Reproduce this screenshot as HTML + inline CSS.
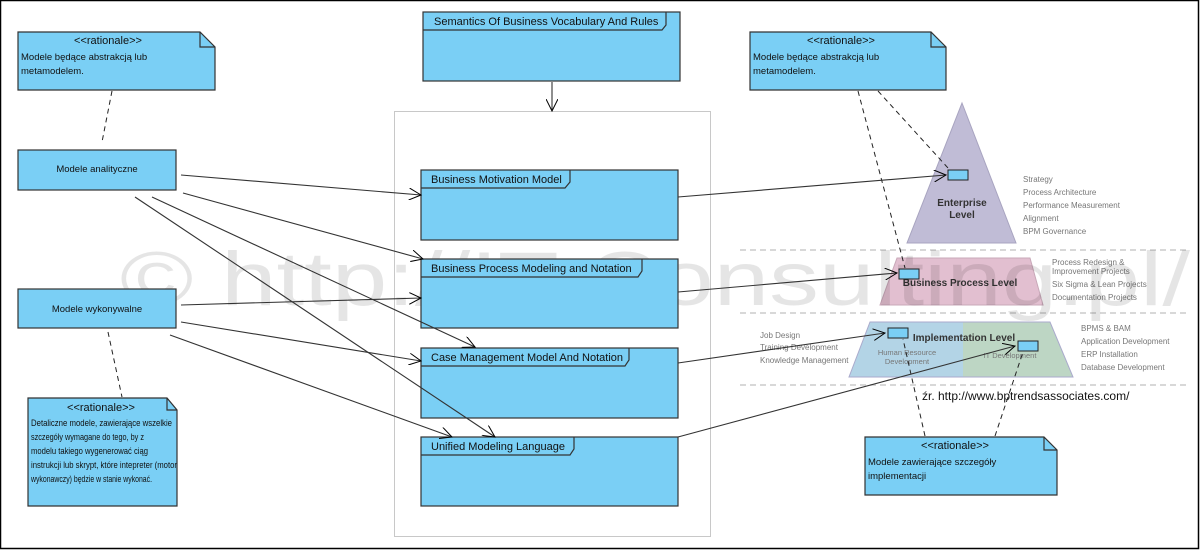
<!DOCTYPE html>
<html><head><meta charset="utf-8"><style>
body{margin:0;background:#fff;}
svg{display:block;font-family:"Liberation Sans","DejaVu Sans",sans-serif;}
</style></head><body>
<svg width="1200" height="550" viewBox="0 0 1200 550" xmlns="http://www.w3.org/2000/svg">
<defs>
<marker id="a" markerWidth="14" markerHeight="12" refX="12" refY="6" orient="auto" markerUnits="userSpaceOnUse">
<path d="M0,0 L12,6 L0,12" fill="none" stroke="#000" stroke-width="1"/></marker>
</defs>
<rect x="0.5" y="0.5" width="1198" height="548" fill="#fff" stroke="#000" stroke-width="1.5"/>

<g stroke="#ccc" stroke-width="1.5" stroke-dasharray="6,4">
<line x1="740" y1="250" x2="1186" y2="250"/>
<line x1="740" y1="313" x2="1186" y2="313"/>
<line x1="740" y1="385" x2="1186" y2="385"/>
</g>
<polygon points="962,103 1016,243 907,243" fill="#c0bcd6" stroke="#a8a4c0"/>
<text x="962" y="206" font-size="10" font-weight="bold" text-anchor="middle" fill="#333">Enterprise</text>
<text x="962" y="218" font-size="10" font-weight="bold" text-anchor="middle" fill="#333">Level</text>
<g font-size="8" fill="#777">
<text x="1023" y="182">Strategy</text>
<text x="1023" y="195">Process Architecture</text>
<text x="1023" y="208">Performance Measurement</text>
<text x="1023" y="221">Alignment</text>
<text x="1023" y="234">BPM Governance</text>
<text x="1052" y="265">Process Redesign &amp;</text>
<text x="1052" y="274">Improvement Projects</text>
<text x="1052" y="287">Six Sigma &amp; Lean Projects</text>
<text x="1052" y="300">Documentation Projects</text>
<text x="1081" y="331">BPMS &amp; BAM</text>
<text x="1081" y="344">Application Development</text>
<text x="1081" y="357">ERP Installation</text>
<text x="1081" y="370">Database Development</text>
<text x="760" y="338">Job Design</text>
<text x="760" y="350">Training Development</text>
<text x="760" y="363">Knowledge Management</text>
</g>
<polygon points="897,258 1030,258 1043,305 880,305" fill="#e2bfd0" stroke="#c8a8b8"/>
<text x="960" y="286" font-size="10" font-weight="bold" text-anchor="middle" fill="#333">Business Process Level</text>
<polygon points="870,322 963,322 963,377 849,377" fill="#b3d4e6"/>
<polygon points="963,322 1050,322 1073,377 963,377" fill="#bdd6c4"/>
<polygon points="870,322 1050,322 1073,377 849,377" fill="none" stroke="#aac"/>
<text x="964" y="341" font-size="10" font-weight="bold" text-anchor="middle" fill="#333">Implementation Level</text>
<text x="907" y="355" font-size="7.5" text-anchor="middle" fill="#777">Human Resource</text>
<text x="907" y="364" font-size="7.5" text-anchor="middle" fill="#777">Development</text>
<text x="1010" y="358" font-size="7.5" text-anchor="middle" fill="#777">IT Development</text>
<text x="922" y="400" font-size="12" fill="#111">źr. http://www.bptrendsassociates.com/</text>

<text x="120" y="305" font-size="76" fill="#000" fill-opacity="0.1" textLength="1070" lengthAdjust="spacingAndGlyphs">© http://IT-Consulting.pl/</text>

<rect x="394.5" y="111.5" width="316" height="425" fill="none" stroke="#c8c8c8"/>

<g stroke="#333" stroke-width="1.2" fill="#7acff5">
<rect x="423" y="12" width="257" height="69"/>
<rect x="421" y="170" width="257" height="70"/>
<rect x="421" y="259" width="257" height="69"/>
<rect x="421" y="348" width="257" height="70"/>
<rect x="421" y="437" width="257" height="69"/>
<path d="M423,30 H662 L666,25 V12" fill="none"/>
<path d="M421,188 H565 L570,182 V170" fill="none"/>
<path d="M421,277 H638 L642,271 V259" fill="none"/>
<path d="M421,366 H625 L629,360 V348" fill="none"/>
<path d="M421,455 H570 L574,449 V437" fill="none"/>
</g>
<g font-size="11" fill="#111">
<text x="434" y="25">Semantics Of Business Vocabulary And Rules</text>
<text x="431" y="183">Business Motivation Model</text>
<text x="431" y="272">Business Process Modeling and Notation</text>
<text x="431" y="361">Case Management Model And Notation</text>
<text x="431" y="450">Unified Modeling Language</text>
</g>

<g fill="#7acff5" stroke="#222">
<rect x="948" y="170" width="20" height="10"/>
<rect x="899" y="269" width="20" height="10"/>
<rect x="888" y="328" width="20" height="10"/>
<rect x="1018" y="341" width="20" height="10"/>
</g>

<g stroke="#333" stroke-width="1.2" fill="#7acff5">
<path d="M18,32 H200 L215,47 V90 H18 Z"/>
<path d="M200,32 V47 H215" fill="none"/>
<path d="M750,32 H931 L946,47 V90 H750 Z"/>
<path d="M931,32 V47 H946" fill="none"/>
<path d="M28,398 H167 L177,410 V506 H28 Z"/>
<path d="M167,398 V410 H177" fill="none"/>
<path d="M865,437 H1044 L1057,450 V495 H865 Z"/>
<path d="M1044,437 V450 H1057" fill="none"/>
<rect x="18" y="150" width="158" height="40"/>
<rect x="18" y="289" width="158" height="39"/>
</g>
<g font-size="9.5" fill="#111">
<text x="108" y="44" font-size="11" text-anchor="middle">&lt;&lt;rationale&gt;&gt;</text>
<text x="21" y="60">Modele będące abstrakcją lub</text>
<text x="21" y="74">metamodelem.</text>
<text x="841" y="44" font-size="11" text-anchor="middle">&lt;&lt;rationale&gt;&gt;</text>
<text x="753" y="60">Modele będące abstrakcją lub</text>
<text x="753" y="74">metamodelem.</text>
<text x="97" y="172" text-anchor="middle">Modele analityczne</text>
<text x="97" y="312" text-anchor="middle">Modele wykonywalne</text>
<text x="101" y="411" font-size="11" text-anchor="middle">&lt;&lt;rationale&gt;&gt;</text>
<text x="31" y="426" font-size="9" textLength="141" lengthAdjust="spacingAndGlyphs">Detaliczne modele, zawierające wszelkie</text>
<text x="31" y="440" font-size="9" textLength="113" lengthAdjust="spacingAndGlyphs">szczegóły wymagane do tego, by z</text>
<text x="31" y="454" font-size="9" textLength="117" lengthAdjust="spacingAndGlyphs">modelu takiego wygenerować ciąg</text>
<text x="31" y="468" font-size="9" textLength="146" lengthAdjust="spacingAndGlyphs">instrukcji lub skrypt, które intepreter (motor</text>
<text x="31" y="482" font-size="9" textLength="121" lengthAdjust="spacingAndGlyphs">wykonawczy) będzie w stanie wykonać.</text>
<text x="955" y="449" font-size="11" text-anchor="middle">&lt;&lt;rationale&gt;&gt;</text>
<text x="868" y="465">Modele zawierające szczegóły</text>
<text x="868" y="479">implementacji</text>
</g>

<g stroke="#222" stroke-dasharray="5,4" fill="none">
<line x1="112" y1="91" x2="102" y2="142"/>
<line x1="108" y1="332" x2="122" y2="397"/>
<line x1="858" y1="91" x2="905" y2="268"/>
<line x1="878" y1="91" x2="948" y2="168"/>
<line x1="925" y1="436" x2="903" y2="339"/>
<line x1="995" y1="436" x2="1023" y2="352"/>
</g>

<g stroke="#333" stroke-width="1.1" fill="none" marker-end="url(#a)">
<line x1="552" y1="82" x2="552" y2="111"/>
<line x1="181" y1="175" x2="421" y2="195"/>
<line x1="183" y1="193" x2="423" y2="259"/>
<line x1="152" y1="197" x2="475" y2="347"/>
<line x1="135" y1="197" x2="495" y2="437"/>
<line x1="181" y1="305" x2="421" y2="298"/>
<line x1="181" y1="322" x2="421" y2="361"/>
<line x1="170" y1="335" x2="452" y2="437"/>
<line x1="678" y1="197" x2="946" y2="175"/>
<line x1="678" y1="292" x2="897" y2="273"/>
<line x1="678" y1="363" x2="885" y2="333"/>
<line x1="678" y1="437" x2="1015" y2="346"/>
</g>
</svg>
</body></html>
